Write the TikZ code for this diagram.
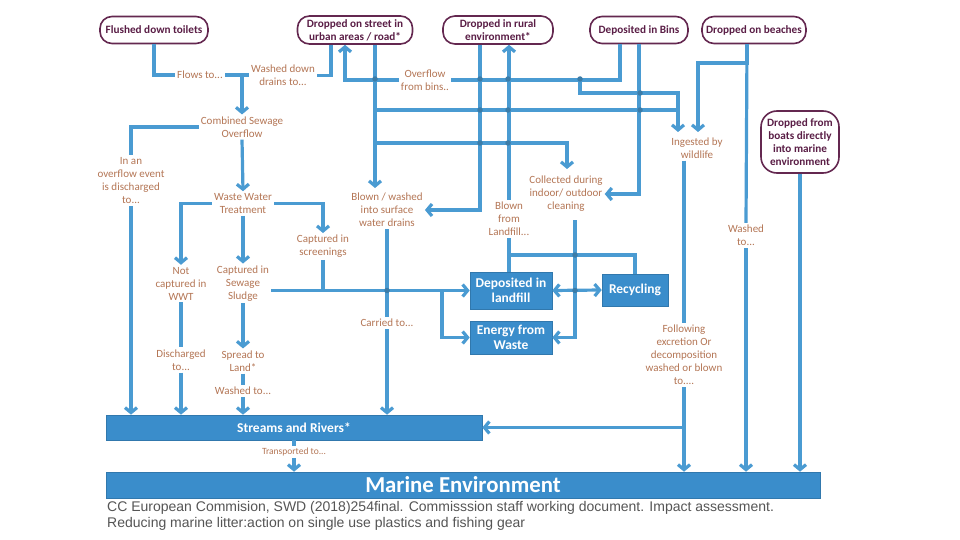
\documentclass[tikz,border=0pt]{standalone}
\usepackage{fontspec}
\setmainfont{Carlito}
\newfontfamily\capfont{Liberation Sans}
\usetikzlibrary{arrows.meta}
\definecolor{flowblue}{RGB}{74,155,210}
\definecolor{boxblue}{RGB}{58,141,203}
\definecolor{boxedge}{RGB}{100,40,80}
\definecolor{boxtext}{RGB}{90,30,70}
\definecolor{lblc}{RGB}{180,118,85}
\definecolor{captxt}{RGB}{85,85,85}
\begin{document}
\begin{tikzpicture}[x=1pt,y=-1pt,
 topbox/.style={draw=boxedge,line width=1.6pt,rounded corners=12pt,fill=white,text=boxtext,font=\bfseries\fontsize{11.2}{12.8}\selectfont,align=center,inner sep=0pt},
 bluebox/.style={fill=boxblue,draw=boxblue!85!black,line width=0.6pt,text=white,font=\bfseries\fontsize{13.5}{15}\selectfont,align=center,inner sep=0pt},
 lbl/.style={text=lblc,font=\fontsize{11}{13}\selectfont,align=center,inner sep=2pt},
 flow/.style={draw=flowblue,line width=3.2pt},
 arr/.style={flow,-{Straight Barb[length=5pt,width=12pt]}},
 darr/.style={flow,{Straight Barb[length=5pt,width=12pt]}-{Straight Barb[length=5pt,width=12pt]}},
 jdot/.style={circle,fill=flowblue!80!black,inner sep=0pt,minimum size=5.5pt}
]
\useasboundingbox[fill=white] (0,0) rectangle (960,540);

% top boxes
\node[topbox,minimum width=108pt,minimum height=27pt] (toilets) at (154,30) {Flushed down toilets};
\node[topbox,minimum width=115pt,minimum height=28pt] (street) at (355,30) {Dropped on street in\\urban areas / road*};
\node[topbox,minimum width=110pt,minimum height=28pt] (rural) at (498,30) {Dropped in rural\\environment*};
\node[topbox,minimum width=98pt,minimum height=27pt] (bins) at (639,30) {Deposited in Bins};
\node[topbox,minimum width=104pt,minimum height=27pt] (beaches) at (754,30) {Dropped on beaches};
\node[topbox,rounded corners=16pt,minimum width=78pt,minimum height=62pt] (boats) at (800,142) {Dropped from\\boats directly\\into marine\\environment};

% blue boxes
\node[bluebox,minimum width=82pt,minimum height=37pt] (landfill) at (511,290.5) {Deposited in\\landfill};
\node[bluebox,minimum width=82pt,minimum height=33pt] (efw) at (511,337.5) {Energy from\\Waste};
\node[bluebox,minimum width=66pt,minimum height=32pt] (recyc) at (635,290) {Recycling};
\node[bluebox,minimum width=376pt,minimum height=25pt] (streams) at (294,427.5) {Streams and Rivers*};
\node[bluebox,font=\bfseries\fontsize{22.8}{24}\selectfont,minimum width=714pt,minimum height=26pt] (marine) at (463,485) {Marine Environment};

% labels
\node[lbl] (flows) at (200,75) {Flows to...};
\node[lbl] (washeddown) at (283,75.5) {Washed down\\drains to...};
\node[lbl] (overflow) at (425,80) {Overflow\\from bins..};
\node[lbl] (cso) at (242,127) {Combined Sewage\\Overflow};
\node[lbl] (inan) at (131,180.5) {In an\\overflow event\\is discharged\\to...};
\node[lbl] (wwt) at (243,203.5) {Waste Water\\Treatment};
\node[lbl] (screen) at (323,246.5) {Captured in\\screenings};
\node[lbl] (notcap) at (181,283.5) {Not\\captured in\\WWT};
\node[lbl] (sludge) at (243,283.5) {Captured in\\Sewage\\Sludge};
\node[lbl] (discharged) at (181,360) {Discharged\\to...};
\node[lbl] (spread) at (243,361) {Spread to\\Land*};
\node[lbl] (washedto) at (243,391) {Washed to...};
\node[lbl] (carried) at (387,323) {Carried to...};
\node[lbl] (blownwashed) at (387,210) {Blown / washed\\into surface\\water drains};
\node[lbl] (blownlandfill) at (509,219) {Blown\\from\\Landfill...};
\node[lbl] (collected) at (566,194) {Collected during\\indoor/ outdoor\\cleaning};
\node[lbl] (ingested) at (697,148) {Ingested by\\wildlife};
\node[lbl] (washedto2) at (746,235.5) {Washed\\to...};
\node[lbl] (following) at (684,355) {Following\\excretion Or\\decomposition\\washed or blown\\to....};
\node[lbl,font=\fontsize{9.5}{11}\selectfont] (transported) at (294,452) {Transported to...};

% junction coordinates
\coordinate (j1) at (242,75);
\coordinate (jov) at (580,79);
\coordinate (jcl) at (575,255);

% toilets / street to CSO
\draw[flow] (toilets.south) |- (flows.west);
\draw[flow] (flows.east) -- (washeddown.west |- flows.east);
\draw[arr] (j1) -- (cso.north);
\draw[flow] ([xshift=-24pt]street.south) |- (washeddown.east);

% overflow from bins
\draw[flow] ([xshift=-19pt]bins.south) |- (overflow.east);
\draw[arr] (overflow.west) -| ([xshift=-10pt]street.south);
\draw[arr] (jov) |- (678,93) -- (678,132);
\draw[flow] (375,110) -- (678,110);

% street main
\draw[arr] ([xshift=20pt]street.south) -- (375,188);
\draw[arr] (375,143) -| (567,169);
% rural main
\draw[arr] ([xshift=-18pt]rural.south) |- (blownwashed.east);
% blown from landfill to rural
\draw[arr] (blownlandfill.north) -- (blownlandfill.north |- rural.south);
\draw[flow] (landfill.north -| blownlandfill.south) -- (blownlandfill.south);
\draw[flow] (jcl -| blownlandfill.south) -| (recyc.north);
% bins main
\draw[arr] (bins.south) |- (collected.east);
% beaches
\draw[arr] ([xshift=-7pt]beaches.south) |- (698,63) -- (698,132);
\draw[flow] ([xshift=-7pt]beaches.south) -- (washedto2.north);
\draw[arr] (washedto2.south) -- (washedto2.south |- marine.north);
% wildlife
\draw[flow] (following.north |- ingested.south) -- (following.north);
\draw[arr] (following.south) -- (following.south |- marine.north);
\draw[arr] (following.south |- streams.east) -- (streams.east);
% boats
\draw[arr] (boats.south) -- (boats.south |- marine.north);
% collected
\draw[arr] (575,220) |- (efw.east);
\draw[darr] (landfill.east) -- (recyc.west);

% left column
\draw[flow] (cso.west) -| (inan.north);
\draw[arr] (inan.south) -- (inan.south |- streams.north);
\draw[arr] (cso.south) -- (wwt.north);
\draw[arr] (wwt.west) -| (notcap.north);
\draw[arr] (wwt.east) -| (screen.north);
\draw[arr] (wwt.south) -- (sludge.north);
\draw[flow] (notcap.south) -- (discharged.north);
\draw[arr] (discharged.south) -- (discharged.south |- streams.north);
\draw[arr] (sludge.south) -- (spread.north);
\draw[flow] (spread.south) -- (washedto.north);
\draw[arr] (washedto.south) -- (washedto.south |- streams.north);
\draw[arr] (sludge.east |- landfill.west) -- (landfill.west);
\draw[flow] (screen.south) -- (screen.south |- landfill.west);
\draw[arr] (442,290.5) |- (efw.west);
\draw[flow] (blownwashed.south) -- (carried.north);
\draw[arr] (carried.south) -- (carried.south |- streams.north);
\draw[flow] (streams.south) -- (transported.north);
\draw[arr] (transported.south) -- (transported.south |- marine.north);

% junction dots
\foreach \p [count=\i] in {(375,79),(480,79),(508,79),(580,79),(480,110),(508,110),(640,110),(640,93),(480,143),(508,143),(387,290.5),(575,255),(575,290.5)}
  \node[jdot] (dot\i) at \p {};

% caption
\node[anchor=base west,inner sep=0pt,text=captxt,font=\capfont\fontsize{14}{16}\selectfont] (cap1) at (107,511) {CC European Commision, SWD (2018)254final. Commisssion staff working document. Impact assessment.};
\node[anchor=base west,inner sep=0pt,text=captxt,font=\capfont\fontsize{14}{16}\selectfont] (cap2) at (107,527) {Reducing marine litter:action on single use plastics and fishing gear};
\end{tikzpicture}
\end{document}
